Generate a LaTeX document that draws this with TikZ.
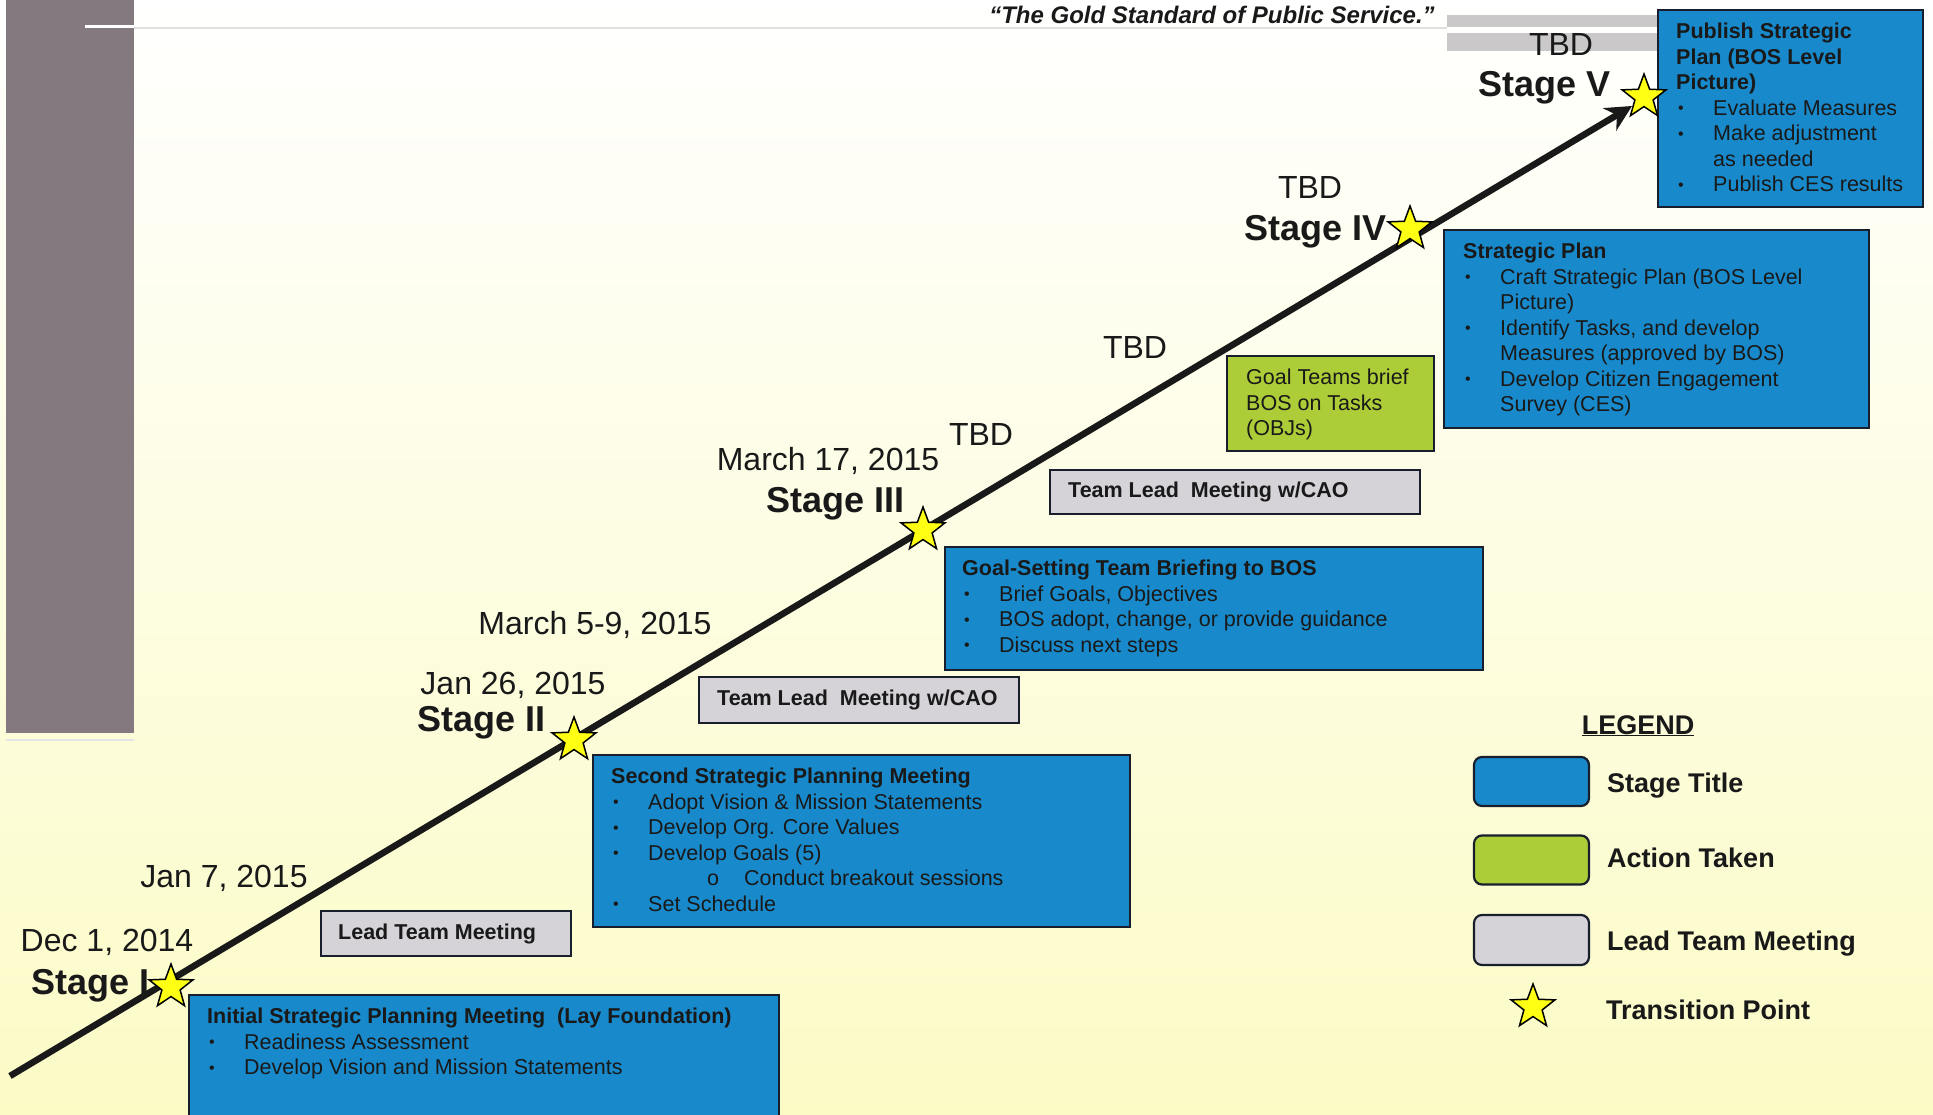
\documentclass[tikz,border=0pt]{standalone}
\usepackage{fontspec}
\usepackage{graphicx}
\setmainfont{Liberation Sans}
\usetikzlibrary{shapes.geometric,arrows.meta,calc}
\definecolor{bgyellow}{RGB}{251,251,198}
\definecolor{bgmid}{RGB}{254,254,226}
\definecolor{greybar}{RGB}{131,121,126}
\definecolor{topgrey}{RGB}{202,200,200}
\definecolor{stageblue}{RGB}{24,138,203}
\definecolor{actiongreen}{RGB}{172,205,55}
\definecolor{meetgrey}{RGB}{214,211,216}
\definecolor{boxline}{RGB}{25,30,45}
\definecolor{staryellow}{RGB}{255,255,20}
\newcommand{\bul}{\makebox[37pt][l]{\hspace{2pt}\raisebox{1.5pt}{\scalebox{0.75}{\textbullet}}}}
\newcommand{\cnt}{\hspace*{37pt}}
\newcommand{\subbul}{\makebox[133pt][l]{\hspace{96pt}o}}
\begin{document}
\begin{tikzpicture}[x=1pt,y=-1pt,
  boxbase/.style={draw=boxline, line width=2pt, inner sep=0, anchor=north west},
  bluebox/.style={boxbase, fill=stageblue},
  greenbox/.style={boxbase, fill=actiongreen},
  greybox/.style={boxbase, fill=meetgrey},
  boxtext/.style={inner sep=0, anchor=north west, align=left, text=black!90, font=\fontsize{21.5}{25.5}\selectfont},
  meettext/.style={inner sep=0, anchor=west, text=black!90, font=\fontsize{21.5}{25.5}\selectfont\bfseries},
  datelbl/.style={inner sep=0, anchor=base, text=black!90, font=\fontsize{32}{38}\selectfont},
  stagelbl/.style={inner sep=0, anchor=base west, text=black!90, font=\fontsize{36}{42}\selectfont\bfseries},
  legbox/.style={draw=boxline, line width=2.2pt, rounded corners=8pt, minimum width=115pt, minimum height=49pt, inner sep=0},
  legtext/.style={inner sep=0, anchor=base west, text=black!90, font=\fontsize{27}{32}\selectfont\bfseries},
  tstar/.style={star, star points=5, star point ratio=2.4, minimum size=46pt, inner sep=0, fill=staryellow, draw=black, line width=1.5pt},
  timeline/.style={line width=6.5pt, draw=black!90, -{Stealth[length=26pt,width=26pt]}}
]
\useasboundingbox (0,0) rectangle (1933,1115);
% background
\shade[top color=white, middle color=bgmid, bottom color=bgyellow] (0,0) rectangle (1933,1115);
\fill[greybar] (6,0) rectangle (134,733);
\draw[gray!20, line width=2pt] (6,740) -- (134,740);
\draw[gray!25, line width=1.2pt] (134,28) -- (1447,28);
\draw[white, line width=3pt] (85,27) -- (134,27);
\fill[topgrey] (1447,15) rectangle (1657,27);
\fill[topgrey] (1447,33) rectangle (1657,51);
% quote
\node[inner sep=0, anchor=base, text=black!90, font=\fontsize{24}{28}\selectfont\bfseries\itshape] (quote) at (1212,23.5) {“The Gold Standard of Public Service.”};
% labels
\node[datelbl] (tbd5) at (1561,56) {TBD};
\node[stagelbl] (stg5) at (1478,97) {Stage V};
\node[datelbl] (tbd4) at (1310,199) {TBD};
\node[stagelbl] (stg4) at (1244,241) {Stage IV};
\node[datelbl] (tbdg) at (1135,358) {TBD};
\node[datelbl] (tbd3) at (981,445) {TBD};
\node[datelbl] (d3) at (828,470) {March 17, 2015};
\node[stagelbl] (stg3) at (766,512) {Stage III};
\node[datelbl] (d59) at (595,634) {March 5-9, 2015};
\node[datelbl] (d2) at (513,694) {Jan 26, 2015};
\node[stagelbl] (stg2) at (417,731) {Stage II};
\node[datelbl] (d17) at (224,887) {Jan 7, 2015};
\node[datelbl] (d1) at (107,951) {Dec 1, 2014};
\node[stagelbl] (stg1) at (31,994) {Stage I};
% timeline
\coordinate (start) at (10,1076);
\coordinate (tip) at (1632,106);
\draw[timeline] (start) -- (tip);
% Stage V box
\node[bluebox, minimum width=265pt, minimum height=197pt] (pub) at (1657,9) {};
\node[boxtext] (pubt) at ($(pub.north west)+(19,11.5)$) {\textbf{\strut Publish Strategic}\\ \textbf{Plan (BOS Level}\\ \textbf{Picture)}\\ \bul Evaluate Measures\\ \bul Make adjustment\\ \cnt as needed\\ \bul Publish CES results};
% Stage IV box
\node[bluebox, minimum width=425pt, minimum height=198pt] (sp) at (1443,229) {};
\node[boxtext] (spt) at ($(sp.north west)+(20,11.5)$) {\textbf{\strut Strategic Plan}\\ \bul Craft Strategic Plan (BOS Level\\ \cnt Picture)\\ \bul Identify Tasks, and develop\\ \cnt Measures (approved by BOS)\\ \bul Develop Citizen Engagement\\ \cnt Survey (CES)};
% green box
\node[greenbox, minimum width=207pt, minimum height=95pt] (gt) at (1226,355) {};
\node[boxtext] (gtt) at ($(gt.north west)+(20,11.5)$) {\strut Goal Teams brief\\ BOS on Tasks\\ (OBJs)};
% grey upper
\node[greybox, minimum width=370pt, minimum height=44pt] (tl2) at (1049,469) {};
\node[meettext] (tl2t) at ($(tl2.west)+(19,0)$) {Team Lead\ \ Meeting w/CAO};
% Stage III box
\node[bluebox, minimum width=538pt, minimum height=123pt] (gs) at (944,546) {};
\node[boxtext] (gst) at ($(gs.north west)+(18,11.5)$) {\textbf{\strut Goal-Setting Team Briefing to BOS}\\ \bul Brief Goals, Objectives\\ \bul BOS adopt, change, or provide guidance\\ \bul Discuss next steps};
% grey lower
\node[greybox, minimum width=320pt, minimum height=46pt] (tl1) at (698,676) {};
\node[meettext] (tl1t) at ($(tl1.west)+(19,0)$) {Team Lead\ \ Meeting w/CAO};
% Stage II box
\node[bluebox, minimum width=537pt, minimum height=172pt] (ss) at (592,754) {};
\node[boxtext] (sst) at ($(ss.north west)+(19,11.5)$) {\textbf{\strut Second Strategic Planning Meeting}\\ \bul Adopt Vision \& Mission Statements\\ \bul Develop Org. Core Values\\ \bul Develop Goals (5)\\ \subbul Conduct breakout sessions\\ \bul Set Schedule};
% lead team meeting
\node[greybox, minimum width=250pt, minimum height=45pt] (ltm) at (320,910) {};
\node[meettext] (ltmt) at ($(ltm.west)+(18,0)$) {Lead Team Meeting};
% Stage I box
\node[bluebox, minimum width=590pt, minimum height=140pt] (ini) at (188,994) {};
\node[boxtext] (init) at ($(ini.north west)+(19,11.5)$) {\textbf{\strut Initial Strategic Planning Meeting\ \ (Lay Foundation)}\\ \bul Readiness Assessment\\ \bul Develop Vision and Mission Statements};
% stars
\node[tstar] (s1) at (171,987) {};
\node[tstar] (s2) at (574,740) {};
\node[tstar] (s3) at (923,530) {};
\node[tstar] (s4) at (1410,229) {};
\node[tstar] (s5) at (1644,97) {};
% legend
\node[inner sep=0, anchor=base, text=black!90, font=\fontsize{27}{32}\selectfont\bfseries] (leg) at (1638,734) {\underline{LEGEND}};
\node[legbox, fill=stageblue] (lb) at (1531.5,781.5) {};
\node[legbox, fill=actiongreen] (lg) at (1531.5,860) {};
\node[legbox, fill=meetgrey, minimum height=50pt] (lm) at (1531.5,940) {};
\node[tstar] (ls) at (1533,1007) {};
\node[legtext] (lbt) at (1607,792) {Stage Title};
\node[legtext] (lgt) at (1607,867) {Action Taken};
\node[legtext] (lmt) at (1607,950) {Lead Team Meeting};
\node[legtext] (lst) at (1606,1019) {Transition Point};
\end{tikzpicture}
\end{document}
